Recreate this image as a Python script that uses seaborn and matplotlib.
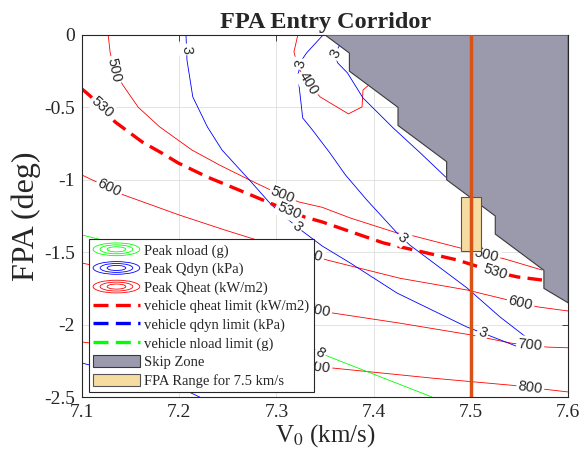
import numpy as np
import pandas as pd
import seaborn as sns
import matplotlib.pyplot as plt
from matplotlib.legend_handler import HandlerBase
from matplotlib.patches import Ellipse, Rectangle, Patch
from matplotlib.lines import Line2D

# ---- data ----
qheat_400_v = [7.322, 7.318, 7.322, 7.333, 7.345, 7.374, 7.388, 7.389, 7.396]
qheat_400_fpa = [0.0, -0.117, -0.22, -0.34, -0.428, -0.545, -0.497, -0.38, -0.34]

qheat_500_v = [7.127, 7.129, 7.133, 7.142, 7.158, 7.180, 7.213, 7.242, 7.272, 7.300,
               7.323, 7.347, 7.376, 7.424, 7.437, 7.489, 7.512, 7.535, 7.573]
qheat_500_fpa = [0.0, -0.12, -0.24, -0.345, -0.5, -0.635, -0.794, -0.9, -1.0, -1.09,
                 -1.153, -1.19, -1.264, -1.367, -1.381, -1.471, -1.51, -1.547, -1.623]

qheat_600_v = [7.1, 7.128, 7.143, 7.2, 7.247, 7.28, 7.336, 7.352, 7.427, 7.496, 7.551, 7.569, 7.6]
qheat_600_fpa = [-0.967, -1.057, -1.105, -1.243, -1.347, -1.416, -1.52, -1.554, -1.68, -1.761,
                 -1.851, -1.878, -1.906]

qheat_700_v = [7.1, 7.2, 7.28, 7.343, 7.358, 7.427, 7.499, 7.543, 7.561, 7.578, 7.6]
qheat_700_fpa = [-1.575, -1.71, -1.82, -1.9, -1.92, -1.99, -2.07, -2.13, -2.14, -2.155, -2.16]

qheat_800_v = [7.1, 7.2, 7.343, 7.358, 7.461, 7.544, 7.561, 7.6]
qheat_800_fpa = [-2.12, -2.2, -2.295, -2.30, -2.37, -2.42, -2.435, -2.465]

qheat_limit_v = [7.1, 7.105, 7.121, 7.134, 7.162, 7.182, 7.199, 7.229, 7.272, 7.295, 7.313,
                 7.329, 7.347, 7.41, 7.486, 7.525, 7.548, 7.573]
qheat_limit_fpa = [-0.373, -0.401, -0.497, -0.60, -0.739, -0.815, -0.884, -0.981, -1.10,
                   -1.165, -1.215, -1.257, -1.291, -1.436, -1.554, -1.637, -1.671, -1.692]

qdyn_a_v = [7.207, 7.208, 7.214, 7.229, 7.244, 7.272, 7.295, 7.321, 7.347, 7.376, 7.424, 7.496,
            7.512, 7.549, 7.558, 7.530, 7.496, 7.437, 7.424, 7.393, 7.371, 7.355, 7.337, 7.327,
            7.322, 7.326, 7.331, 7.348]
qdyn_a_fpa = [0.0, -0.173, -0.428, -0.635, -0.794, -1.0, -1.174, -1.326, -1.457, -1.575, -1.782,
              -2.017, -2.058, -2.155, -2.093, -1.948, -1.747, -1.45, -1.367, -1.14, -0.967,
              -0.815, -0.656, -0.573, -0.276, -0.173, -0.124, 0.0]
qdyn_b_v = [7.365, 7.360, 7.363, 7.373, 7.389, 7.42, 7.448, 7.474]
qdyn_b_fpa = [-0.069, -0.138, -0.193, -0.262, -0.435, -0.642, -0.815, -0.981]
qdyn_c_v = [7.1, 7.206, 7.221]
qdyn_c_fpa = [-2.265, -2.452, -2.5]

nload_8_v = [7.1, 7.121, 7.2, 7.3, 7.345, 7.355, 7.46]
nload_8_fpa = [-1.381, -1.416, -1.65, -2.0, -2.196, -2.224, -2.5]

skip_v = [7.35, 7.375, 7.375, 7.425, 7.425, 7.475, 7.475, 7.525, 7.525, 7.575, 7.575, 7.6, 7.6]
skip_fpa = [0.0, -0.125, -0.25, -0.5, -0.625, -0.875, -1.0, -1.25, -1.375, -1.625, -1.75, -1.85, 0.0]

v_target = 7.5
fpa_range = [-1.49, -1.12]

x_ticks = [7.1, 7.2, 7.3, 7.4, 7.5, 7.6]
y_ticks = [0, -0.5, -1, -1.5, -2, -2.5]
y_tick_labels = ['0', '-0.5', '-1', '-1.5', '-2', '-2.5']

legend_labels = ['Peak nload (g)', 'Peak Qdyn (kPa)', 'Peak Qheat (kW/m2)',
                 'vehicle qheat limit (kW/m2)', 'vehicle qdyn limit (kPa)',
                 'vehicle nload limit (g)', 'Skip Zone', 'FPA Range for 7.5 km/s']

lines = {
    ('qheat', '400'): (qheat_400_v, qheat_400_fpa),
    ('qheat', '500'): (qheat_500_v, qheat_500_fpa),
    ('qheat', '600'): (qheat_600_v, qheat_600_fpa),
    ('qheat', '700'): (qheat_700_v, qheat_700_fpa),
    ('qheat', '800'): (qheat_800_v, qheat_800_fpa),
    ('qdyn', 'a'): (qdyn_a_v, qdyn_a_fpa),
    ('qdyn', 'b'): (qdyn_b_v, qdyn_b_fpa),
    ('qdyn', 'c'): (qdyn_c_v, qdyn_c_fpa),
    ('nload', '8'): (nload_8_v, nload_8_fpa),
    ('limit', '530'): (qheat_limit_v, qheat_limit_fpa),
}

rows = []
for (q, name), (vs, fs) in lines.items():
    for i, (v, f) in enumerate(zip(vs, fs)):
        rows.append({'quantity': q, 'line': name, 'order': i, 'V': v, 'FPA': f})
df = pd.DataFrame(rows)

# contour label placement: (line, text, approx V, approx FPA)
contour_labels = [
    (('qheat', '400'), '400', 7.331, -0.345),
    (('qheat', '500'), '500', 7.133, -0.24),
    (('qheat', '500'), '500', 7.307, -1.10),
    (('qheat', '500'), '500', 7.516, -1.52),
    (('limit', '530'), '530', 7.121, -0.497),
    (('limit', '530'), '530', 7.313, -1.215),
    (('limit', '530'), '530', 7.525, -1.637),
    (('qheat', '600'), '600', 7.128, -1.057),
    (('qheat', '600'), '600', 7.335, -1.52),
    (('qheat', '600'), '600', 7.551, -1.851),
    (('qheat', '700'), '700', 7.343, -1.9),
    (('qheat', '700'), '700', 7.561, -2.14),
    (('qheat', '800'), '800', 7.343, -2.295),
    (('qheat', '800'), '800', 7.561, -2.435),
    (('qdyn', 'a'), '3', 7.208, -0.10),
    (('qdyn', 'a'), '3', 7.321, -1.326),
    (('qdyn', 'a'), '3', 7.43, -1.40),
    (('qdyn', 'a'), '3', 7.512, -2.058),
    (('qdyn', 'a'), '3', 7.324, -0.20),
    (('qdyn', 'b'), '3', 7.361, -0.13),
    (('nload', '8'), '8', 7.345, -2.196),
]

# ---- figure ----
sns.set_style("white")
plt.rcParams['font.family'] = ['Liberation Serif', 'DejaVu Serif']
plt.rcParams['mathtext.fontset'] = 'stix'
plt.rcParams['axes.unicode_minus'] = False

fig = plt.figure(figsize=(5.81, 4.66), dpi=100)
ax = fig.add_axes([0.141, 0.148, 0.837, 0.777])
ax.set_xlim(7.1, 7.6)
ax.set_ylim(-2.5, 0)

colors = {'qheat': '#ff0000', 'qdyn': '#0000ff', 'nload': '#00ff00'}
for q, c in colors.items():
    sns.lineplot(data=df[df.quantity == q], x='V', y='FPA', units='line', estimator=None,
                 sort=False, color=c, lw=0.6, ax=ax, legend=False, zorder=2)
sns.lineplot(data=df[df.quantity == 'limit'], x='V', y='FPA', units='line', estimator=None,
             sort=False, color='#ff0000', lw=2.4, linestyle=(0, (4.5, 2.2)), ax=ax,
             legend=False, zorder=2.2)


def place_label(key, text, v, f):
    xs, ys = lines[key]
    pts = ax.transData.transform(np.column_stack([xs, ys]))
    p = ax.transData.transform((v, f))
    best = None
    for i in range(len(pts) - 1):
        a, b = pts[i], pts[i + 1]
        ab = b - a
        t = np.clip(np.dot(p - a, ab) / np.dot(ab, ab), 0, 1)
        qpt = a + t * ab
        d = np.hypot(*(p - qpt))
        if best is None or d < best[0]:
            best = (d, qpt, ab)
    _, qpt, ab = best
    ang = np.degrees(np.arctan2(ab[1], ab[0]))
    if ang > 90:
        ang -= 180
    if ang < -90:
        ang += 180
    x, y = ax.transData.inverted().transform(qpt)
    ax.text(x, y, text, rotation=ang, rotation_mode='anchor', ha='center', va='center',
            fontsize=10.5, family=['Liberation Sans', 'DejaVu Sans'], color='#262626',
            zorder=2.5, bbox=dict(boxstyle='square,pad=0.12', fc='white', ec='none'))


for key, text, v, f in contour_labels:
    place_label(key, text, v, f)

ax.fill(skip_v, skip_fpa, facecolor='#9b9aad', edgecolor='#3a3a3a', lw=0.8, zorder=3)
ax.add_patch(Rectangle((v_target - 0.01, fpa_range[0]), 0.02, fpa_range[1] - fpa_range[0],
                       facecolor='#f6dca0', edgecolor='#555555', lw=0.8, zorder=4))
ax.axvline(v_target, color='#d95319', lw=2.5, zorder=5)

ax.set_xticks(x_ticks)
ax.set_xticklabels([f'{t:.1f}' for t in x_ticks])
ax.set_yticks(y_ticks)
ax.set_yticklabels(y_tick_labels)
ax.grid(True, color='#dedede', lw=0.6)
ax.set_axisbelow(True)
ax.tick_params(direction='in', top=True, right=True, length=4, width=0.6,
               labelsize=14, color='#262626', labelcolor='#262626', pad=5)
for s in ax.spines.values():
    s.set_color('#262626')
    s.set_linewidth(0.8)

ax.set_title('FPA Entry Corridor', fontsize=17.5, fontweight='bold', pad=5)
ax.set_xlabel('V$_0$ (km/s)', fontsize=18, color='#262626', labelpad=1)
ax.set_ylabel('FPA (deg)', fontsize=23, color='#262626', labelpad=2)


class ContourKey:
    def __init__(self, color):
        self.color = color


class ContourHandler(HandlerBase):
    def create_artists(self, legend, orig_handle, xdescent, ydescent, width, height,
                       fontsize, trans):
        cx = width / 2 - xdescent
        cy = height / 2 - ydescent
        arts = []
        for s in (1.0, 0.7, 0.4):
            arts.append(Ellipse((cx, cy), width * s, height * 1.05 * s, fill=False,
                                edgecolor=orig_handle.color, lw=0.6, transform=trans))
        return arts


handles = [ContourKey('#00ff00'), ContourKey('#0000ff'), ContourKey('#ff0000'),
           Line2D([], [], color='#ff0000', lw=2.4, linestyle=(0, (4.5, 2.2))),
           Line2D([], [], color='#0000ff', lw=2.4, linestyle=(0, (4.5, 2.2))),
           Line2D([], [], color='#00ff00', lw=2.4, linestyle=(0, (4.5, 2.2))),
           Patch(facecolor='#9b9aad', edgecolor='#3a3a3a', lw=0.8),
           Patch(facecolor='#f6dca0', edgecolor='#555555', lw=0.8)]

leg = ax.legend(handles, legend_labels, handler_map={ContourKey: ContourHandler()},
                loc='lower left', bbox_to_anchor=(0.014, 0.014), borderaxespad=0,
                fancybox=False, framealpha=1, edgecolor='#262626', fontsize=10.5,
                handlelength=3.2, handleheight=0.9, handletextpad=0.3,
                labelspacing=0.3, borderpad=0.3)
leg.get_frame().set_linewidth(0.8)
leg.set_zorder(10)

fig.savefig('out.png', dpi=100)
